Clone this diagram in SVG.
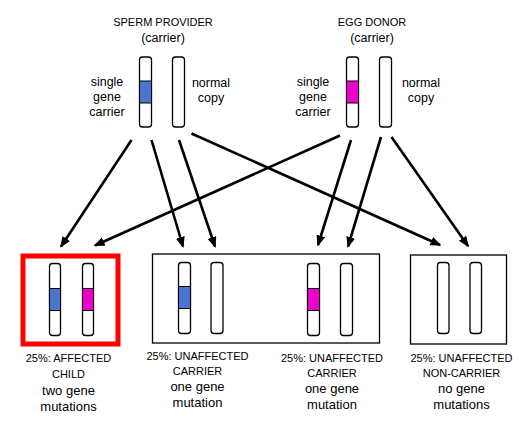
<svg xmlns="http://www.w3.org/2000/svg" width="530" height="425" viewBox="0 0 530 425">
<style>
text{font-family:"Liberation Sans",Arial,sans-serif;fill:#000;text-anchor:middle}
.cap{font-size:11px}
.lo{font-size:12.5px}
.lb{font-size:13px}
.chr{fill:#fff;stroke:#000;stroke-width:1.3}
.blue{fill:#4A76CF;stroke:#000;stroke-width:1}
.mag{fill:#EE00CC;stroke:#000;stroke-width:1}
.box{fill:none;stroke:#000;stroke-width:1.3}
.arr{stroke:#000;stroke-width:2.6;fill:none;marker-end:url(#ah)}
</style>
<defs>
<marker id="ah" markerUnits="userSpaceOnUse" markerWidth="12" markerHeight="10" refX="9.5" refY="4.5" orient="auto">
<path d="M0,0 L11,4.5 L0,9 z" fill="#000"/>
</marker>
</defs>
<rect width="530" height="425" fill="#fff"/>

<g id="sperm-provider">
<text class="cap" x="163" y="26">SPERM PROVIDER</text>
<text class="lo" x="163" y="42">(carrier)</text>
<text class="lo" x="107" y="86">single</text>
<text class="lo" x="107" y="101">gene</text>
<text class="lo" x="107" y="116">carrier</text>
<text class="lo" x="211" y="87">normal</text>
<text class="lo" x="211" y="102">copy</text>
<rect class="chr" x="139.5" y="57" width="12" height="70" rx="3"/>
<rect class="blue" x="139.5" y="81" width="12" height="22"/>
<rect class="chr" x="172.5" y="57" width="12" height="70" rx="3"/>
</g>

<g id="egg-donor">
<text class="cap" x="372" y="26">EGG DONOR</text>
<text class="lo" x="372" y="42">(carrier)</text>
<text class="lo" x="313" y="86">single</text>
<text class="lo" x="313" y="101">gene</text>
<text class="lo" x="313" y="116">carrier</text>
<text class="lo" x="421" y="87">normal</text>
<text class="lo" x="421" y="102">copy</text>
<rect class="chr" x="346.5" y="57" width="12" height="70" rx="3"/>
<rect class="mag" x="346.5" y="81" width="12" height="22"/>
<rect class="chr" x="379.5" y="57" width="12" height="70" rx="3"/>
</g>

<g id="connectors">
<line class="arr" x1="131.5" y1="140" x2="61" y2="246.5"/>
<line class="arr" x1="151.5" y1="140" x2="183" y2="246.5"/>
<line class="arr" x1="179" y1="140" x2="215" y2="246.5"/>
<line class="arr" x1="191.5" y1="133.5" x2="440" y2="245"/>
<line class="arr" x1="340" y1="135.5" x2="95" y2="245.5"/>
<line class="arr" x1="351" y1="140" x2="318" y2="245"/>
<line class="arr" x1="381" y1="137" x2="348" y2="246.5"/>
<line class="arr" x1="391.5" y1="137" x2="468" y2="246"/>
</g>

<g id="affected-child">
<rect x="23" y="256" width="95" height="88" fill="none" stroke="#FF0000" stroke-width="5"/>
<rect class="chr" x="49.5" y="263.5" width="11" height="72" rx="3"/>
<rect class="blue" x="49.5" y="288.5" width="11" height="22"/>
<rect class="chr" x="82.5" y="263.5" width="11" height="72" rx="3"/>
<rect class="mag" x="82.5" y="288.5" width="11" height="22"/>
<text class="cap" x="68.5" y="362">25%: AFFECTED</text>
<text class="cap" x="68.5" y="378">CHILD</text>
<text class="lb" x="68.5" y="395">two gene</text>
<text class="lb" x="68.5" y="411">mutations</text>
</g>

<g id="unaffected-carriers">
<rect class="box" x="152.5" y="254" width="227" height="89"/>
<rect class="chr" x="178.5" y="262.5" width="12" height="71" rx="3"/>
<rect class="blue" x="178.5" y="286.5" width="12" height="22"/>
<rect class="chr" x="211" y="262.5" width="12" height="71" rx="3"/>
<rect class="chr" x="307.5" y="263.5" width="12" height="72" rx="3"/>
<rect class="mag" x="307.5" y="288.5" width="12" height="22"/>
<rect class="chr" x="340.5" y="263.5" width="12" height="72" rx="3"/>
<text class="cap" x="197.5" y="360">25%: UNAFFECTED</text>
<text class="cap" x="197.5" y="375">CARRIER</text>
<text class="lb" x="197.5" y="391">one gene</text>
<text class="lb" x="197.5" y="407">mutation</text>
<text class="cap" x="332" y="362">25%: UNAFFECTED</text>
<text class="cap" x="332" y="377">CARRIER</text>
<text class="lb" x="332" y="393">one gene</text>
<text class="lb" x="332" y="409">mutation</text>
</g>

<g id="non-carrier">
<rect class="box" x="410.5" y="255" width="96" height="89"/>
<rect class="chr" x="437.5" y="262.5" width="11.5" height="71" rx="3"/>
<rect class="chr" x="470" y="262.5" width="11.5" height="71" rx="3"/>
<text class="cap" x="461.5" y="362">25%: UNAFFECTED</text>
<text class="cap" x="461.5" y="377">NON-CARRIER</text>
<text class="lb" x="461.5" y="393">no gene</text>
<text class="lb" x="461.5" y="409">mutations</text>
</g>
</svg>
